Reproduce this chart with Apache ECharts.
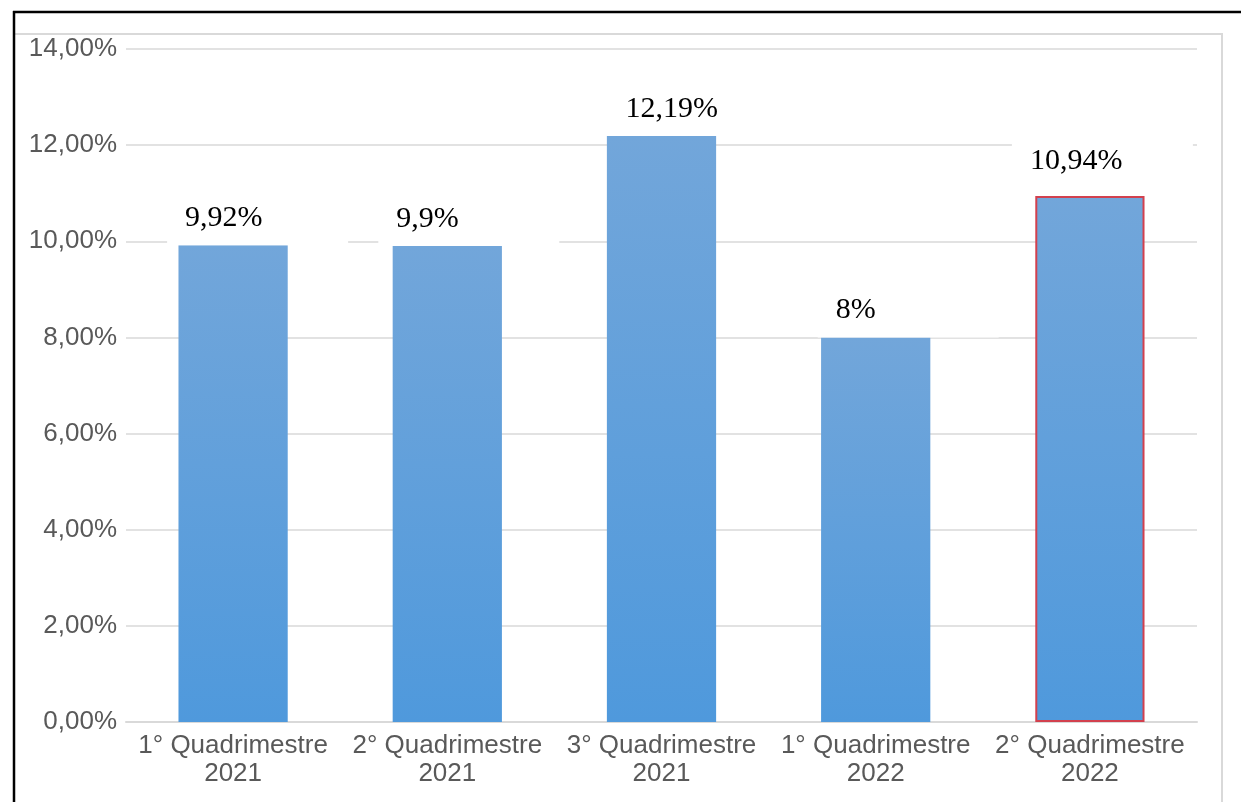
<!DOCTYPE html>
<html>
<head>
<meta charset="utf-8">
<script src="https://cdn.jsdelivr.net/npm/echarts@6/dist/echarts.min.js"></script>
<style>
html,body{margin:0;padding:0;background:#fff;}
#c{width:1241px;height:802px;}
</style>
</head>
<body>
<div id="c"></div>
<script>
const categories = ['1° Quadrimestre\n2021', '2° Quadrimestre\n2021', '3° Quadrimestre\n2021', '1° Quadrimestre\n2022', '2° Quadrimestre\n2022'];
const values = [9.92, 9.9, 12.19, 8, 10.94];
const yTicks = { min: 0, max: 14, interval: 2 };

const labelOffsets = [[-66, 0], [-69, 0], [-54, 0], [-58, 0], [-78, -8]];
const highlightIndex = 4;

const barGradient = new echarts.graphic.LinearGradient(0, 0, 0, 1, [
  { offset: 0, color: '#72a6da' },
  { offset: 1, color: '#4f99dc' }
]);

const seriesData = values.map((v, i) => ({
  value: v,
  itemStyle: i === highlightIndex ? { borderColor: '#d2404e', borderWidth: 2 } : {},
  label: { offset: labelOffsets[i] }
}));

const chart = echarts.init(document.getElementById('c'));
chart.setOption({
  animation: false,
  grid: { left: 126, right: 44, top: 49, bottom: 80, containLabel: false },
  graphic: [
    { type: 'rect', shape: { x: 14, y: 34, width: 1208, height: 800 }, style: { fill: 'none', stroke: '#d9d9d9', lineWidth: 2 }, z: -10 },
    { type: 'line', shape: { x1: 13, y1: 12, x2: 1241, y2: 12 }, style: { stroke: '#000', lineWidth: 2.5 }, z: 100 },
    { type: 'line', shape: { x1: 14, y1: 11, x2: 14, y2: 802 }, style: { stroke: '#000', lineWidth: 2.5 }, z: 100 }
  ],
  xAxis: {
    type: 'category',
    data: categories,
    axisLine: { lineStyle: { color: '#d9d9d9', width: 2 } },
    axisTick: { show: false },
    axisLabel: { color: '#595959', fontFamily: 'Liberation Sans', fontSize: 26, lineHeight: 28, margin: 10, interval: 0 }
  },
  yAxis: {
    type: 'value',
    min: yTicks.min, max: yTicks.max, interval: yTicks.interval,
    axisLine: { show: false },
    axisTick: { show: false },
    splitLine: { lineStyle: { color: '#d9d9d9', width: 1.5 } },
    axisLabel: {
      color: '#595959', fontFamily: 'Liberation Sans', fontSize: 26, margin: 9,
      formatter: v => v.toFixed(2).replace('.', ',') + '%'
    }
  },
  series: [{
    type: 'bar',
    data: seriesData,
    barWidth: '51%',
    itemStyle: { color: barGradient },
    label: {
      show: true,
      position: 'top',
      distance: 0,
      formatter: p => String(p.value).replace('.', ',') + '%',
      fontFamily: 'Liberation Serif',
      fontSize: 30,
      lineHeight: 34,
      color: '#000',
      backgroundColor: '#fff',
      width: 145,
      align: 'left',
      padding: [4, 18, 10, 18]
    },
    z: 2
  }]
});
</script>
</body>
</html>
